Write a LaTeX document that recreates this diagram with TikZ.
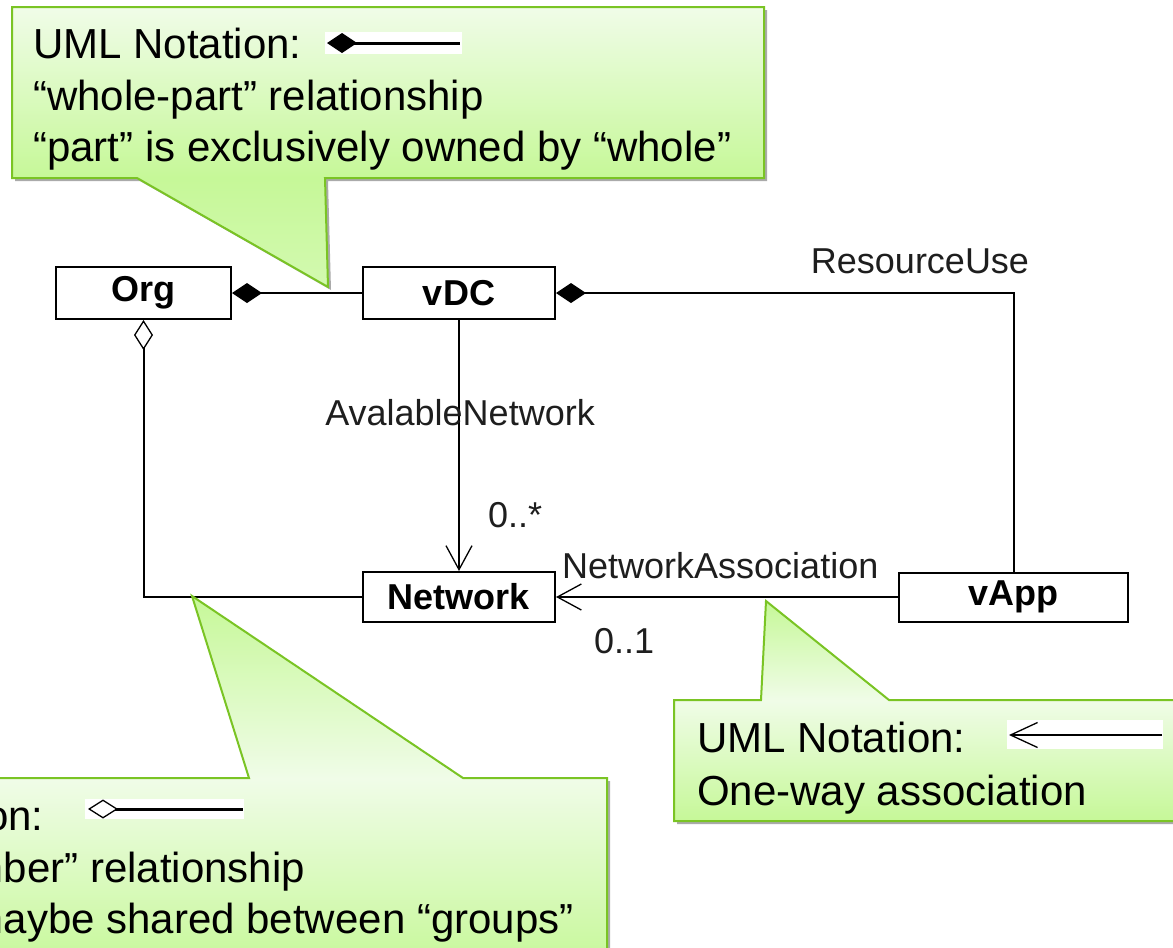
\documentclass[tikz,border=0pt]{standalone}
\usepackage{fontspec}
\setmainfont{Liberation Sans}
\usetikzlibrary{arrows.meta,calc}

\definecolor{calloutEdge}{RGB}{122,196,36}
\definecolor{calloutLight}{RGB}{240,252,232}
\definecolor{calloutGreen}{RGB}{198,248,152}
\definecolor{shadowGray}{RGB}{170,170,170}
\definecolor{inkGray}{RGB}{30,30,30}

\tikzset{
  classbox/.style={draw=black, line width=2pt, fill=white, inner sep=0pt,
    font=\bfseries\fontsize{36}{36}\selectfont},
  link/.style={draw=black, line width=2pt},
  lbl/.style={font=\fontsize{36}{36}\selectfont, inner sep=0pt, text=inkGray},
  notetext/.style={font=\fontsize{42}{42}\selectfont, inner sep=0pt, anchor=base west},
  calloutline/.style={draw=calloutEdge, line width=2pt, line join=miter},
  calloutshadow/.style={fill=shadowGray, shift={(3,3)}},
  filleddiamond/.tip={Diamond[length=30pt,width=20pt]},
  hollowdiamond/.tip={Diamond[open,length=30pt,width=19pt,line width=1.3pt]},
  openhead/.tip={Straight Barb[length=24pt,width=26pt,line width=1.3pt]},
  swatch/.style={fill=white, draw=none}
}

% callout outlines (box plus pointer)
\def\topcallout{(12,7) -- (764,7) -- (764,178) -- (325,178) -- (328,287) -- (137,178) -- (12,178) -- cycle}
\def\leftcallout{(-10,778) -- (249,778) -- (192,596) -- (463,778) -- (607,778) -- (607,970) -- (-10,970) -- cycle}
\def\rightcallout{(674,700) -- (761,700) -- (766,601) -- (889,700) -- (1190,700) -- (1190,821) -- (674,821) -- cycle}

\begin{document}
\begin{tikzpicture}[x=1pt,y=-1pt]
\useasboundingbox (0,0) rectangle (1173,948);
\clip (0,0) rectangle (1173,948);
\fill[white] (0,0) rectangle (1173,948);

% ---- class diagram ----
\node[classbox, minimum width=175pt, minimum height=52pt] (org) at (143.5,293) {Org};
\node[classbox, minimum width=192pt, minimum height=52pt] (vdc) at (459,293) {vDC};
\node[classbox, minimum width=192pt, minimum height=50pt] (net) at (459,597) {Network};
\node[classbox, minimum width=229pt, minimum height=49pt] (vapp) at (1013.5,597) {vApp};

\coordinate (ruc) at (vapp.north |- vdc.east);
\coordinate (orgc) at (org.south |- net.west);

\draw[link, filleddiamond-] (org.east) -- (vdc.west);
\draw[link, filleddiamond-] (vdc.east) -- (ruc) -- (vapp.north);
\draw[link, -openhead] (vdc.south) -- (net.north);
\draw[link, hollowdiamond-] (org.south) -- (orgc) -- (net.west);
\draw[link, -openhead] (vapp.west) -- (net.east);

\node[lbl, anchor=base] (ru) at (920,273) {ResourceUse};
\node[lbl, anchor=base east] (avn) at (595,425) {AvalableNetwork};
\node[lbl, anchor=base west] (m1) at (488,527) {0..*};
\node[lbl, anchor=base west] (na) at (562,578) {NetworkAssociation};
\node[lbl, anchor=base west] (m2) at (594,653) {0..1};

% ---- top callout ----
\fill[calloutshadow] \topcallout;
\shade[top color=calloutLight, bottom color=calloutGreen] (12,7) rectangle (764,178);
\shade[top color=calloutGreen, bottom color=calloutGreen!70!calloutLight] (137,177) -- (325,177) -- (328,287) -- cycle;
\draw[calloutline] \topcallout;
\node[notetext] (t1) at (33,58) {UML Notation:};
\node[notetext] (t2) at (33,110) {“whole-part” relationship};
\node[notetext] (t3) at (33,161) {“part” is exclusively owned by “whole”};
\fill[swatch] (325,32) rectangle (462,54);
\coordinate (tsa) at (327,43);
\coordinate (tsb) at (460,43);
\draw[line width=3pt, filleddiamond-] (tsa) -- (tsb);

% ---- lower left callout ----
\fill[calloutshadow] \leftcallout;
\shade[top color=calloutLight, bottom color=calloutGreen] (-10,778) rectangle (607,970);
\shade[top color=calloutGreen, bottom color=calloutLight] (192,596) -- (463,779) -- (249,779) -- cycle;
\draw[calloutline] \leftcallout;
\node[notetext] (b1) at (-225,830) {UML Notation:};
\node[notetext] (b2) at (-225,882) {“group-member” relationship};
\node[notetext] (b3) at (-225,933) {“member” maybe shared between “groups”};
\fill[swatch] (85,799) rectangle (244,819);
\coordinate (bsa) at (88,809);
\coordinate (bsb) at (243,809);
\draw[line width=3pt, hollowdiamond-] (bsa) -- (bsb);

% ---- lower right callout ----
\fill[calloutshadow] \rightcallout;
\shade[top color=calloutLight, bottom color=calloutGreen] (674,700) rectangle (1190,821);
\shade[top color=calloutGreen, bottom color=calloutLight] (766,601) -- (889,701) -- (761,701) -- cycle;
\draw[calloutline] \rightcallout;
\node[notetext] (r1) at (697,752) {UML Notation:};
\node[notetext] (r2) at (697,805) {One-way association};
\fill[swatch] (1007,720) rectangle (1163,749);
\coordinate (rsa) at (1162,735);
\coordinate (rsb) at (1009,735);
\draw[line width=2.5pt, -{Straight Barb[length=27pt,width=25pt,line width=1.3pt]}] (rsa) -- (rsb);
\end{tikzpicture}
\end{document}
